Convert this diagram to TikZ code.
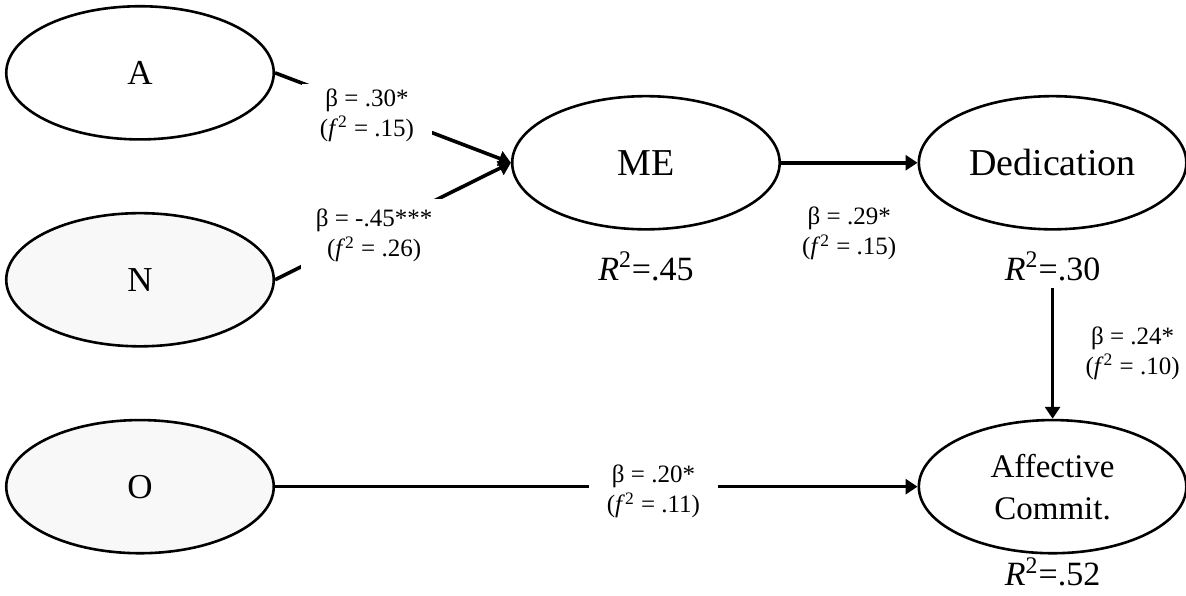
\documentclass[tikz,border=0pt]{standalone}
\usepackage{fontspec}
\setmainfont{Liberation Serif}
\usetikzlibrary{shapes.geometric,arrows.meta,positioning}
\definecolor{exogray}{RGB}{248,248,248}
\tikzset{
  latent/.style={
    ellipse, draw=black, line width=1.3pt, fill=white,
    minimum width=47mm, minimum height=23.4mm, inner sep=0pt,
    align=center
  },
  exo/.style={latent, fill=exogray},
  coef/.style={fill=white, align=center, inner xsep=9pt, inner ysep=2pt,
               font=\fontsize{12.5}{15}\selectfont},
  rsq/.style={font=\fontsize{17}{20}\selectfont}
}

\begin{document}
\begin{tikzpicture}[
    node distance=12.5mm,
    big/.style={font=\fontsize{19}{22}\selectfont},
    mid/.style={font=\fontsize{17.5}{20}\selectfont},
    arr/.style={-{Triangle[length=6pt,width=7.5pt]}, line width=1.8pt}
]
  \useasboundingbox (0,0) rectangle (20.84,-10.46);

  % Predictors on the left
  \node[latent, mid] (A) at (2.46,-1.28) {A};
  \node[exo, mid, below=of A] (N) {N};
  \node[exo, mid, below=of N] (O) {O};

  % Mediator and outcomes
  \node[latent, big] (ME) at (11.35,-2.86) {ME};
  \node[latent, big, right=24mm of ME] (Ded) {Dedication};
  \node[latent, font=\fontsize{16.5}{21}\selectfont] (Aff) at (Ded |- O)
       {Affective\\Commit.};

  % Explained variance
  \node[rsq, below=7pt of ME]   (R2me)  {\textit{R}\textsuperscript{2}=.45};
  \node[rsq, below=7pt of Ded]  (R2ded) {\textit{R}\textsuperscript{2}=.30};
  \node[rsq, below=-2pt of Aff] (R2aff) {\textit{R}\textsuperscript{2}=.52};

  % Structural paths
  \draw[arr] (A.east) -- node[coef, pos=0.39, yshift=-3.5pt] (bA)
       {β = .30*\\(\textit{f}\textsuperscript{2} = .15)} (ME.west);
  \draw[arr] (N.east) -- node[coef, pos=0.42, yshift=-2.5pt,
                              inner xsep=7.5pt, inner ysep=5pt] (bN)
       {β = -.45***\\(\textit{f}\textsuperscript{2} = .26)} (ME.west);
  \draw[arr] (ME) -- node[coef, midway, yshift=-35.5pt] (bME)
       {β = .29*\\(\textit{f}\textsuperscript{2} = .15)} (Ded);
  \draw[arr] (R2ded) -- node[coef, midway, xshift=40pt] (bDed)
       {β = .24*\\(\textit{f}\textsuperscript{2} = .10)} (Aff);
  \draw[arr] (O) -- node[coef, pos=0.589, yshift=-2.5pt] (bO)
       {β = .20*\\(\textit{f}\textsuperscript{2} = .11)} (Aff);

\end{tikzpicture}
\end{document}
